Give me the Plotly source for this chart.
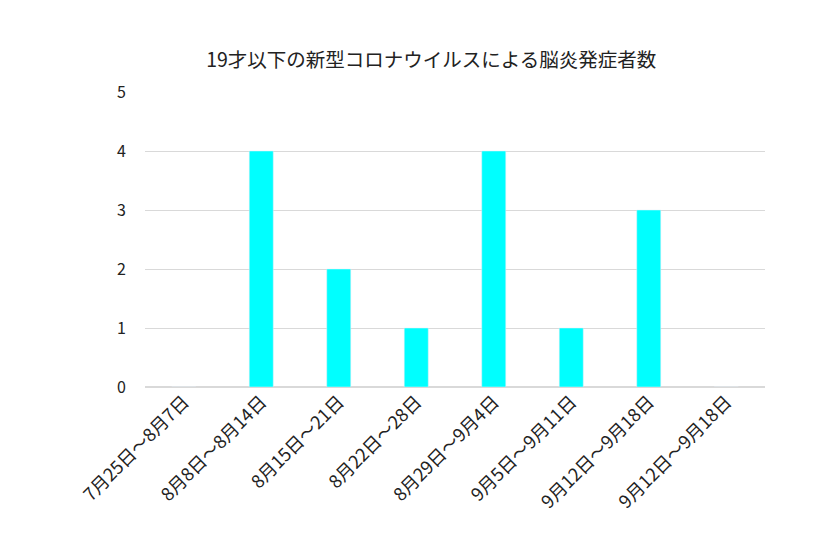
import plotly.graph_objects as go

# 期間ラベル (最後の2つは元の図でも同じ表記)
periods = ["7月25日～8月7日", "8月8日～8月14日", "8月15日～21日", "8月22日～28日",
           "8月29日～9月4日", "9月5日～9月11日", "9月12日～9月18日", "9月12日～9月18日"]
cases = [0, 4, 2, 1, 4, 1, 3, 0]
positions = list(range(len(periods)))

font_jp = "Noto Sans CJK JP"

fig = go.Figure(go.Bar(
    x=positions,
    y=cases,
    marker_color="#00FFFF",
    width=0.31,
))

fig.update_layout(
    width=817, height=545,
    paper_bgcolor="white", plot_bgcolor="white",
    margin=dict(l=137, r=60, t=84, b=166, autoexpand=False),
    title=dict(text="19才以下の新型コロナウイルスによる脳炎発症者数",
               x=0.518, xanchor="center", y=0.905, yanchor="middle",
               font=dict(family=font_jp, size=19.5, color="#222")),
    font=dict(family=font_jp, color="#222"),
    showlegend=False,
)
fig.update_xaxes(
    tickmode="array", tickvals=positions, ticktext=periods,
    tickangle=-45, tickfont=dict(size=18),
    range=[-0.5, len(periods) - 0.5],
    showgrid=False, zeroline=False, showline=False, ticks="",
)
fig.update_yaxes(
    range=[0, 5], dtick=1, tickfont=dict(size=16),
    showgrid=True, gridcolor="#d9d9d9", gridwidth=1,
    zeroline=True, zerolinecolor="#d9d9d9",
    ticks="", ticklabelstandoff=18,
)

fig.write_html("out.html")
